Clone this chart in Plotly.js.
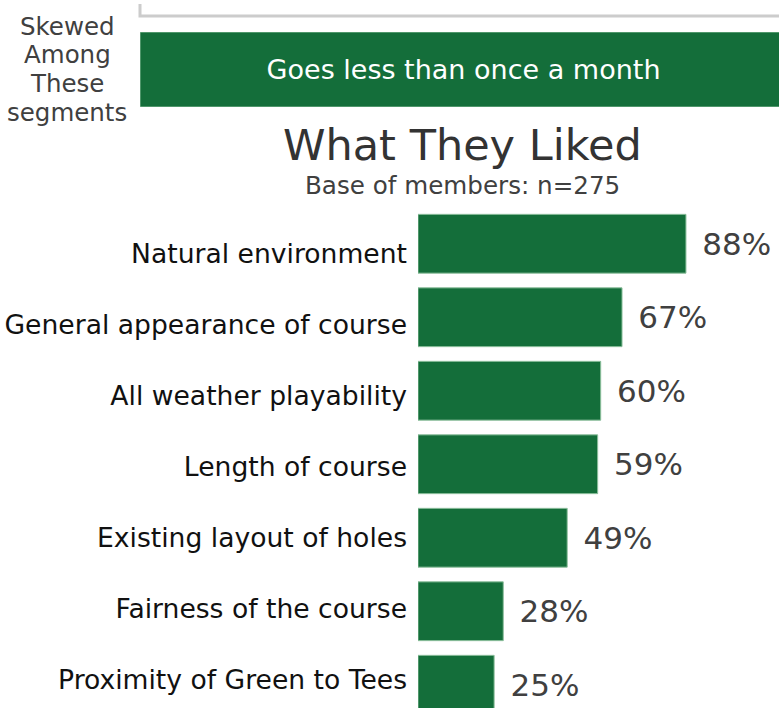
<!DOCTYPE html>
<html>
<head>
<meta charset="utf-8">
<script src="https://cdn.plot.ly/plotly-3.0.1.min.js"></script>
<style>html,body{margin:0;padding:0;background:#fff;}#chart{width:779px;height:708px;}</style>
</head>
<body>
<div id="chart"></div>
<script>
// Data
const categories = [
  "Natural environment",
  "General appearance of course",
  "All weather playability",
  "Length of course",
  "Existing layout of holes",
  "Fairness of the course",
  "Proximity of Green to Tees"
];
const values = [88, 67, 60, 59, 49, 28, 25];
const segmentLabel = ["Goes less than once a month"];
const segmentValue = [100];
const sideLabelLines = ["Skewed", "Among", "These", "segments"];
const titleText = "What They Liked";
const subtitleText = "Base of members: n=275";

const FONT = "DejaVu Sans, Verdana, sans-serif";
const GREEN = "#146e3a";
const EDGE = "#8cbf9c";
const W = 779, H = 708;
const px = v => v / W;
const py = v => 1 - v / H;

// label rows are spaced slightly tighter than the bars in the original
const BAR_STEP = 73.5, LABEL_STEP = 71, FIRST_BAR = 243.5, FIRST_LABEL = 253;
const labelPos = categories.map((c, i) => (FIRST_LABEL + LABEL_STEP * i - FIRST_BAR) / BAR_STEP);

const traces = [
  {
    type: "bar",
    orientation: "h",
    x: values,
    y: categories.map((c, i) => i),
    width: 0.8,
    marker: {color: GREEN, line: {color: EDGE, width: 1}},
    text: values.map(v => "\u2004\u200A" + v + "%"),
    textposition: "outside",
    textfont: {family: FONT, size: 31, color: "#404040"},
    cliponaxis: false,
    hoverinfo: "skip",
    xaxis: "x",
    yaxis: "y"
  },
  {
    type: "bar",
    orientation: "h",
    x: segmentValue,
    y: [0],
    width: 1,
    marker: {color: GREEN, line: {color: EDGE, width: 1}},
    text: segmentLabel,
    textposition: "inside",
    insidetextanchor: "middle",
    textfont: {family: FONT, size: 27, color: "#ffffff"},
    hoverinfo: "skip",
    xaxis: "x2",
    yaxis: "y2"
  }
];

const annotations = sideLabelLines.map((t, i) => ({
  text: t,
  xref: "paper", yref: "paper",
  x: px(67), y: py(26 + i * 28.7),
  xanchor: "center", yanchor: "middle",
  showarrow: false,
  font: {family: FONT, size: 24.5, color: "#404040"}
}));
annotations.push({
  text: titleText, xref: "paper", yref: "paper",
  x: px(463), y: py(145), xanchor: "center", yanchor: "middle",
  showarrow: false, font: {family: FONT, size: 43, color: "#333333"}
});
annotations.push({
  text: subtitleText, xref: "paper", yref: "paper",
  x: px(463), y: py(185), xanchor: "center", yanchor: "middle",
  showarrow: false, font: {family: FONT, size: 24.6, color: "#404040"}
});

const layout = {
  width: W, height: H,
  margin: {l: 0, r: 0, t: 0, b: 0, pad: 0},
  paper_bgcolor: "#ffffff",
  plot_bgcolor: "#ffffff",
  showlegend: false,
  font: {family: FONT},
  xaxis: {
    domain: [px(418), 1],
    range: [0, (W - 418) / 3.045],
    visible: false,
    fixedrange: true
  },
  yaxis: {
    domain: [0, py(207)],
    range: [-0.5 + 501 / BAR_STEP, -0.5],
    tickmode: "array",
    tickvals: labelPos,
    ticktext: categories,
    ticks: "",
    showgrid: false,
    zeroline: false,
    showline: false,
    ticklabelstandoff: 10,
    tickfont: {family: FONT, size: 26.6, color: "#111111"},
    fixedrange: true
  },
  xaxis2: {
    domain: [px(140), 1],
    range: [0, 98.75],
    visible: false,
    anchor: "y2",
    fixedrange: true
  },
  yaxis2: {
    domain: [py(107), py(32)],
    range: [-0.5, 0.5],
    visible: false,
    anchor: "x2",
    fixedrange: true
  },
  shapes: [
    {
      type: "path",
      xref: "paper", yref: "paper",
      path: `M ${px(140)},${py(4)} L ${px(140)},${py(16)} L 1,${py(16)}`,
      line: {color: "#cccccc", width: 3}
    }
  ],
  annotations: annotations
};

Plotly.newPlot("chart", traces, layout, {displayModeBar: false, staticPlot: true});
</script>
</body>
</html>
